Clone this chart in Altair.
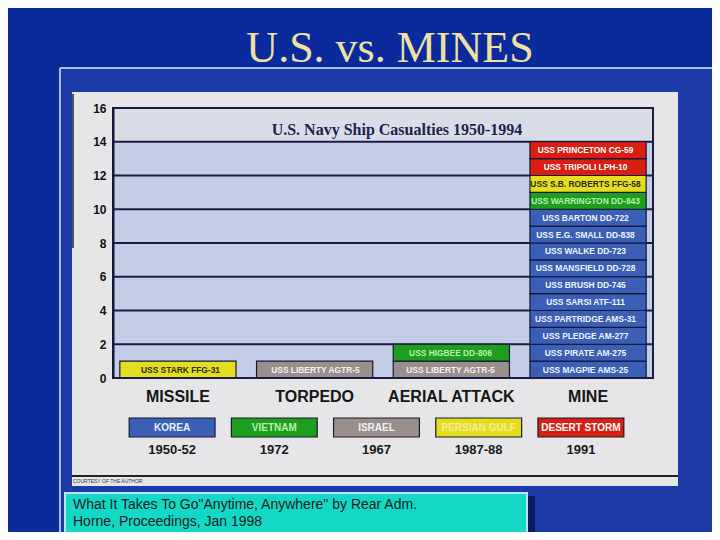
import altair as alt
import pandas as pd

# ---- data ----
categories = ["MISSILE", "TORPEDO", "AERIAL ATTACK", "MINE"]
conflicts = ["KOREA", "VIETNAM", "ISRAEL", "PERSIAN GULF", "DESERT STORM"]
conflict_years = ["1950-52", "1972", "1967", "1987-88", "1991"]
conflict_fill = ["#3B5FB4", "#1E9E1E", "#9B8F8E", "#E4DE1E", "#D91F12"]
legend_text_color = ["#E8EEFF", "#B6F2AE", "#F4F0F0", "#F4EE9A", "#FFFFFF"]
cell_text_color = ["#F2F4FF", "#B6F2AE", "#F4F0F0", "#2A2A12", "#FFFFFF"]

# ships listed bottom-to-top inside each category column
ship_names = [
    "USS STARK FFG-31",
    "USS LIBERTY AGTR-5",
    "USS LIBERTY AGTR-5", "USS HIGBEE DD-806",
    "USS MAGPIE AMS-25", "USS PIRATE AM-275", "USS PLEDGE AM-277",
    "USS PARTRIDGE AMS-31", "USS SARSI ATF-111", "USS BRUSH DD-745",
    "USS MANSFIELD DD-728", "USS WALKE DD-723", "USS E.G. SMALL DD-838",
    "USS BARTON DD-722", "USS WARRINGTON DD-843", "USS S.B. ROBERTS FFG-58",
    "USS TRIPOLI LPH-10", "USS PRINCETON CG-59",
]
ship_category = [
    "MISSILE",
    "TORPEDO",
    "AERIAL ATTACK", "AERIAL ATTACK",
    "MINE", "MINE", "MINE", "MINE", "MINE", "MINE", "MINE", "MINE", "MINE",
    "MINE", "MINE", "MINE", "MINE", "MINE",
]
ship_conflict = [
    "PERSIAN GULF",
    "ISRAEL",
    "ISRAEL", "VIETNAM",
    "KOREA", "KOREA", "KOREA", "KOREA", "KOREA", "KOREA", "KOREA", "KOREA",
    "KOREA", "KOREA", "VIETNAM", "PERSIAN GULF", "DESERT STORM", "DESERT STORM",
]
y_ticks = [0, 2, 4, 6, 8, 10, 12, 14, 16]

chart_title = "U.S. Navy Ship Casualties 1950-1994"
slide_title = "U.S. vs. MINES"
caption_lines = ['What It Takes To Go"Anytime, Anywhere" by Rear Adm.',
                 "Horne, Proceedings, Jan 1998"]
courtesy = "COURTESY OF THE AUTHOR"

# ---- tables ----
ships = pd.DataFrame({"ship": ship_names, "category": ship_category,
                      "conflict": ship_conflict})
ships["level"] = ships.groupby("category").cumcount()
ships["top"] = ships["level"] + 1
ships["mid"] = ships["level"] + 0.5

legend = pd.DataFrame({"conflict": conflicts, "year": conflict_years})
grid = pd.DataFrame({"v": y_ticks})
one = pd.DataFrame({"k": [0]})
band = pd.DataFrame({"lo": [14], "hi": [16]})
cap = pd.DataFrame({"line": caption_lines, "i": [0, 1]})

W, H = 540, 270
yscale = alt.Scale(domain=[0, 16], nice=False)
xscale = alt.Scale(domain=categories, paddingInner=0.15, paddingOuter=0.05)
lscale = alt.Scale(domain=conflicts, range=[8, 519], paddingInner=0.16, paddingOuter=0.08)

base1 = alt.Chart(one)

frame = base1.mark_rect(fill="#1D3BA7").encode(
    x=alt.value(-53), x2=alt.value(599), y=alt.value(-40), y2=alt.value(424))
frame_top = base1.mark_rule(color="#A6BCF2", strokeWidth=2).encode(
    x=alt.value(-53), x2=alt.value(599), y=alt.value(-40))
frame_left = base1.mark_rule(color="#A6BCF2", strokeWidth=2).encode(
    x=alt.value(-53), y=alt.value(-40), y2=alt.value(424))
panel = base1.mark_rect(fill="#E6E6E9").encode(
    x=alt.value(-41), x2=alt.value(565), y=alt.value(-16), y2=alt.value(378))
panel_edge = base1.mark_rule(color="#222222", strokeWidth=1.5).encode(
    x=alt.value(-40), y=alt.value(-14), y2=alt.value(140))
plot_bg = base1.mark_rect(fill="#C3CDE6").encode(
    x=alt.value(0), x2=alt.value(W), y=alt.value(0), y2=alt.value(H))
top_band = alt.Chart(band).mark_rect(fill="#D9DDE8").encode(
    x=alt.value(0), x2=alt.value(W),
    y=alt.Y("lo:Q", scale=yscale, axis=alt.Axis(
        values=y_ticks, grid=False, ticks=False, domain=True, domainColor="#15153A",
        domainWidth=2, labelFont="Liberation Sans", labelFontWeight="bold",
        labelFontSize=12, labelColor="#111111", labelPadding=7, title=None,
        zindex=2)),
    y2="hi:Q")
gridlines = alt.Chart(grid).mark_rule(color="#1C1C44", strokeWidth=2).encode(
    x=alt.value(0), x2=alt.value(W), y=alt.Y("v:Q", scale=yscale, axis=None))

cells = alt.Chart(ships).mark_rect(stroke="#161638", strokeWidth=1.2).encode(
    x=alt.X("category:N", scale=xscale, sort=categories,
            axis=alt.Axis(labelFont="Liberation Sans", labelFontWeight="bold",
                          labelFontSize=16, labelColor="#151515", labelAngle=0,
                          ticks=False, domain=False, labelPadding=10, title=None,
                          zindex=2)),
    y=alt.Y("level:Q", scale=yscale, axis=None),
    y2="top:Q",
    color=alt.Color("conflict:N", scale=alt.Scale(domain=conflicts, range=conflict_fill),
                    legend=None),
)
cell_text = alt.Chart(ships).mark_text(font="Liberation Sans", fontWeight="bold",
                                       fontSize=8.4).encode(
    x=alt.X("category:N", scale=xscale, sort=categories, axis=None),
    y=alt.Y("mid:Q", scale=yscale, axis=None),
    text="ship:N",
    color=alt.Color("conflict:N", scale=alt.Scale(domain=conflicts, range=cell_text_color),
                    legend=None),
)
outline = base1.mark_rect(fill=None, stroke="#1C1C44", strokeWidth=2).encode(
    x=alt.value(0), x2=alt.value(W), y=alt.value(0), y2=alt.value(H))
subtitle = base1.mark_text(font="Liberation Serif", fontWeight="bold", fontSize=16,
                           color="#1E2250").encode(
    x=alt.value(284), y=alt.value(22), text=alt.value(chart_title))

panel_line = base1.mark_rule(color="#2A2222", strokeWidth=2).encode(
    x=alt.value(-41), x2=alt.value(565), y=alt.value(368))
courtesy_t = base1.mark_text(font="Liberation Sans", fontSize=5, align="left",
                             color="#333333").encode(
    x=alt.value(-40), y=alt.value(373), text=alt.value(courtesy))

leg_rect = alt.Chart(legend).mark_rect(stroke="#1A1A2A", strokeWidth=1.2).encode(
    x=alt.X("conflict:N", scale=lscale, sort=conflicts, axis=None),
    y=alt.value(310), y2=alt.value(329),
    color=alt.Color("conflict:N", scale=alt.Scale(domain=conflicts, range=conflict_fill),
                    legend=None),
)
leg_text = alt.Chart(legend).mark_text(font="Liberation Sans", fontWeight="bold",
                                       fontSize=10).encode(
    x=alt.X("conflict:N", scale=lscale, sort=conflicts, axis=None),
    y=alt.value(320),
    text="conflict:N",
    color=alt.Color("conflict:N", scale=alt.Scale(domain=conflicts, range=legend_text_color),
                    legend=None),
)
leg_year = alt.Chart(legend).mark_text(font="Liberation Sans", fontWeight="bold",
                                       fontSize=13, color="#1A1A1A").encode(
    x=alt.X("conflict:N", scale=lscale, sort=conflicts, axis=None),
    y=alt.value(342),
    text="year:N",
)

cap_shadow = base1.mark_rect(fill="#0A1A62").encode(
    x=alt.value(412), x2=alt.value(422), y=alt.value(388), y2=alt.value(424))
cap_box = base1.mark_rect(fill="#14D8C6", stroke="#B8E6F4", strokeWidth=2).encode(
    x=alt.value(-48), x2=alt.value(414), y=alt.value(385), y2=alt.value(430))
cap_text = alt.Chart(cap).mark_text(font="Liberation Sans", fontSize=14, align="left",
                                    color="#1C1C1C").encode(
    x=alt.value(-40),
    y=alt.Y("i:Q", scale=alt.Scale(domain=[0, 1], range=[397, 414]), axis=None),
    text="line:N",
)
title_t = base1.mark_text(font="Liberation Serif", fontSize=44, color="#EFE1A4",
                          baseline="alphabetic").encode(
    x=alt.value(277), y=alt.value(-46), text=alt.value(slide_title))

chart = alt.layer(
    frame, frame_top, frame_left, panel, panel_edge, plot_bg, top_band, gridlines,
    cells, cell_text, outline, subtitle, panel_line, courtesy_t,
    leg_rect, leg_text, leg_year, cap_shadow, cap_box, cap_text, title_t,
).resolve_scale(x="independent", y="independent", color="independent").properties(
    width=W, height=H, autosize="none",
    padding={"left": 105, "top": 100, "right": 59, "bottom": 154},
).configure(background="#0B2A9C").configure_view(stroke=None)

chart.save("out.html", embed_options={"renderer": "svg", "actions": False})
